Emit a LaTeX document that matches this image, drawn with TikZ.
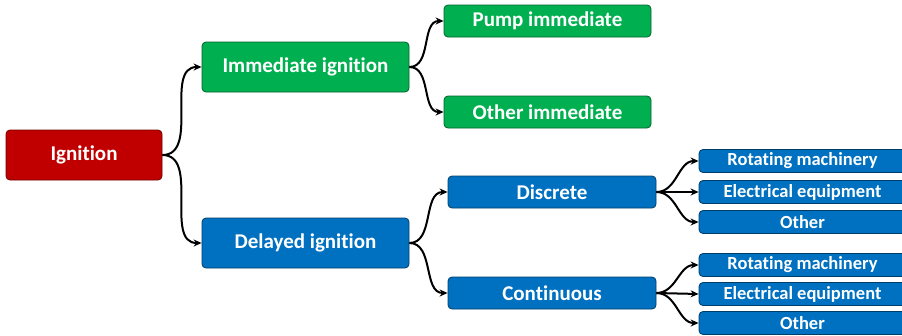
\documentclass[tikz,border=0pt]{standalone}
\usepackage{fontspec}
\setmainfont{Carlito}[Ligatures={NoCommon,NoRequired,NoContextual,NoRare},RawFeature={-liga;-clig;-calt}]
\usetikzlibrary{arrows.meta}
\definecolor{cred}{HTML}{C00000}
\definecolor{cgreen}{HTML}{00B050}
\definecolor{cblue}{HTML}{0070C0}
\tikzset{
  box/.style={rounded corners=4pt, line width=0.8pt, text=white, font=\bfseries\fontsize{21}{23}\selectfont, inner sep=0pt, anchor=center},
  redbox/.style={box, fill=cred, draw=cred!60!black, minimum width=156pt, minimum height=50pt},
  greenbig/.style={box, fill=cgreen, draw=cgreen!55!black, minimum width=207pt, minimum height=50pt},
  greensmall/.style={box, fill=cgreen, draw=cgreen!55!black, minimum width=207pt, minimum height=32pt},
  bluebig/.style={box, fill=cblue, draw=cblue!55!black, minimum width=207pt, minimum height=50pt},
  bluemid/.style={box, fill=cblue, draw=cblue!55!black, minimum width=208pt, minimum height=32pt},
  bluesmall/.style={box, fill=cblue, draw=cblue!55!black, minimum width=207pt, minimum height=23pt, font=\bfseries\fontsize{18.5}{20}\selectfont},
  conn/.style={line width=2pt, -{Stealth[length=8pt,width=7pt]}},
}
\begin{document}
\begin{tikzpicture}[x=1pt,y=-1pt]
\useasboundingbox (0,0) rectangle (902,335);
\node[redbox] (ign) at (84,155) {Ignition};
\node[greenbig] (imm) at (305.5,67) {Immediate ignition};
\node[greensmall] (pump) at (547.5,21) {Pump immediate};
\node[greensmall] (oimm) at (547.5,112) {Other immediate};
\node[bluebig] (del) at (305.5,243) {Delayed ignition};
\node[bluemid] (disc) at (552,192) {Discrete};
\node[bluemid] (cont) at (552,293) {Continuous};
\node[bluesmall] (rot1) at (802.5,161) {Rotating machinery};
\node[bluesmall] (ele1) at (802.5,192) {Electrical equipment};
\node[bluesmall] (oth1) at (802.5,222) {Other};
\node[bluesmall] (rot2) at (802.5,265) {Rotating machinery};
\node[bluesmall] (ele2) at (802.5,294) {Electrical equipment};
\node[bluesmall] (oth2) at (802.5,323) {Other};
\draw[conn] (ign.east) to[out=0,in=180] (imm.west);
\draw[conn] (ign.east) to[out=0,in=180] (del.west);
\draw[conn] (imm.east) to[out=0,in=180] (pump.west);
\draw[conn] (imm.east) to[out=0,in=180] (oimm.west);
\draw[conn] (del.east) to[out=0,in=180] (disc.west);
\draw[conn] (del.east) to[out=0,in=180] (cont.west);
\draw[conn] (disc.east) to[out=0,in=180] (rot1.west);
\draw[conn] (disc.east) -- (ele1.west);
\draw[conn] (disc.east) to[out=0,in=180] (oth1.west);
\draw[conn] (cont.east) to[out=0,in=180] (rot2.west);
\draw[conn] (cont.east) -- (ele2.west);
\draw[conn] (cont.east) to[out=0,in=180] (oth2.west);
\end{tikzpicture}
\end{document}
